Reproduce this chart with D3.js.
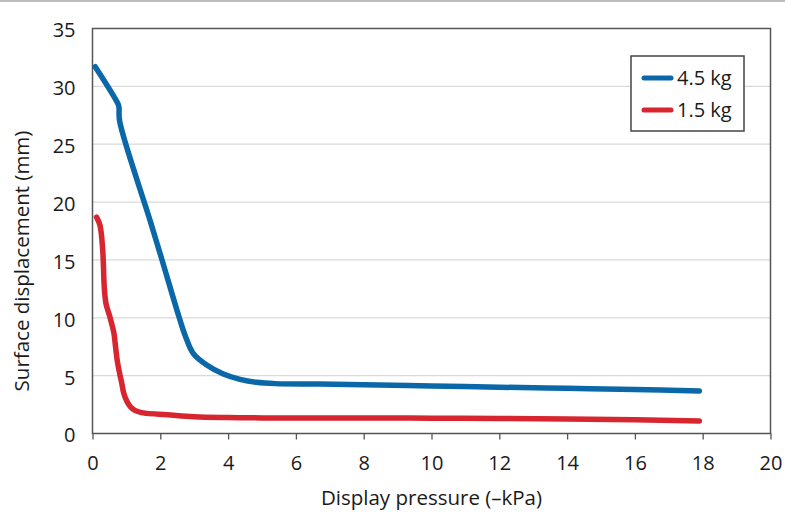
<!DOCTYPE html>
<html><head><meta charset="utf-8">
<script src="https://cdn.jsdelivr.net/npm/d3@7"></script>
<style>body{margin:0;background:#fff}svg{display:block}</style>
</head><body>
<svg id="c" width="785" height="530"></svg>
<script>
const xTicks = [0,2,4,6,8,10,12,14,16,18,20];
const yTicks = [0,5,10,15,20,25,30,35];
const seriesNames = ["4.5 kg","1.5 kg"];
const seriesColors = ["#0a68a8","#d7262f"];
const heavyX = [0.08,0.75,0.78,0.8,1.7,2.04,2.56,2.73,2.97,3.37,3.86,4.35,4.84,5.4,6.7,8,10,12,14,16,17.9];
const heavyY = [31.7,28.5,28.2,27.0,18.4,15.1,10,8.5,6.93,5.92,5.14,4.68,4.42,4.31,4.27,4.21,4.11,4.0,3.9,3.8,3.67];
const lightX = [0.12,0.22,0.3,0.35,0.4,0.52,0.63,0.68,0.73,0.8,0.86,0.92,1.01,1.12,1.25,1.45,1.6,2.2,3.0,4,5,8,10,12,14,16,17.9];
const lightY = [18.7,18.0,15.9,12.5,11.2,10.0,8.7,7.5,6.3,5.2,4.4,3.5,2.8,2.3,2.0,1.8,1.74,1.62,1.45,1.38,1.35,1.35,1.32,1.3,1.25,1.18,1.08];
const xTitle = "Display pressure (–kPa)";
const yTitle = "Surface displacement (mm)";

const font = "'Open Sans', sans-serif";
const svg = d3.select("#c");
const L = 92.5, R = 770.5, T = 28.5, B = 433.5;
const x = d3.scaleLinear().domain([0,20]).range([L,R]);
const y = d3.scaleLinear().domain([0,35]).range([B,T]);

// top rule
svg.append("line").attr("x1",0).attr("x2",785).attr("y1",1).attr("y2",1).attr("stroke","#bdbdbd").attr("stroke-width",2);

// gridlines
svg.append("g").selectAll("line").data(yTicks.filter(d=>d>0&&d<35)).join("line")
  .attr("x1",L).attr("x2",R).attr("y1",d=>y(d)).attr("y2",d=>y(d))
  .attr("stroke","#d9d9d9").attr("stroke-width",1.2);

// x axis
const xa = svg.append("g").attr("transform",`translate(0,${B})`)
  .call(d3.axisBottom(x).tickValues(xTicks).tickSize(6).tickSizeOuter(0).tickPadding(16));
xa.select(".domain").remove();
xa.selectAll("line").attr("stroke","#555").attr("stroke-width",1.3);
xa.selectAll("text").attr("font-family",font).attr("font-size",20).attr("fill","#1a1a1a");

// y axis
const ya = svg.append("g").attr("transform",`translate(${L},0)`)
  .call(d3.axisLeft(y).tickValues(yTicks).tickSize(0).tickPadding(17));
ya.select(".domain").remove();
ya.selectAll("text").attr("font-family",font).attr("font-size",20).attr("fill","#1a1a1a").attr("dy","0.42em");

// frame
svg.append("rect").attr("x",L).attr("y",T).attr("width",R-L).attr("height",B-T)
  .attr("fill","none").attr("stroke","#555").attr("stroke-width",1.5);

// lines
const line = d3.line().x(d=>x(d[0])).y(d=>y(d[1])).curve(d3.curveCatmullRom.alpha(0.5));
const data = [d3.zip(heavyX,heavyY), d3.zip(lightX,lightY)];
svg.append("g").selectAll("path").data(data).join("path")
  .attr("d",line).attr("fill","none")
  .attr("stroke",(d,i)=>seriesColors[i]).attr("stroke-width",5.5)
  .attr("stroke-linecap","round").attr("stroke-linejoin","round");

// titles
svg.append("text").attr("x",(L+R)/2).attr("y",505).attr("text-anchor","middle")
  .attr("font-family",font).attr("font-size",20.5).attr("fill","#1a1a1a").text(xTitle);
svg.append("text").attr("transform",`translate(29,261) rotate(-90)`).attr("text-anchor","middle")
  .attr("font-family",font).attr("font-size",20.5).attr("fill","#1a1a1a").text(yTitle);

// legend
const lg = svg.append("g");
lg.append("rect").attr("x",631).attr("y",56).attr("width",113).attr("height",75)
  .attr("fill","#fff").attr("stroke","#444").attr("stroke-width",1.5);
seriesNames.forEach((n,i)=>{
  const yy = 78 + i*32;
  lg.append("line").attr("x1",644).attr("x2",671).attr("y1",yy).attr("y2",yy)
    .attr("stroke",seriesColors[i]).attr("stroke-width",5).attr("stroke-linecap","round");
  lg.append("text").attr("x",677).attr("y",yy+7).attr("font-family",font).attr("font-size",20)
    .attr("fill","#1a1a1a").text(n);
});
</script>
</body></html>
